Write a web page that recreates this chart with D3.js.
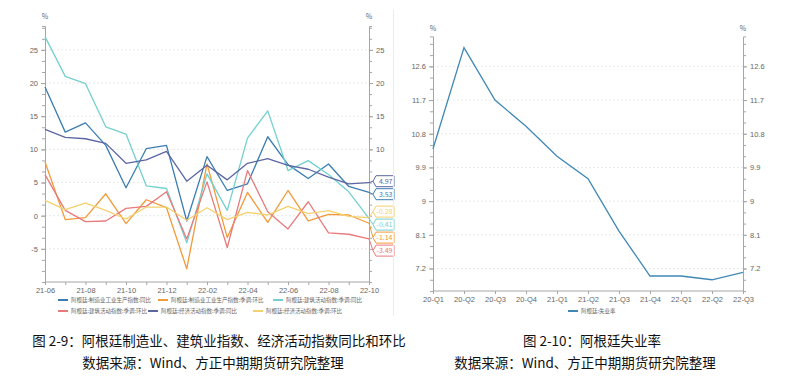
<!DOCTYPE html>
<html><head><meta charset="utf-8">
<script src="https://cdn.jsdelivr.net/npm/d3@7/dist/d3.min.js"></script>
<style>
body{margin:0;background:#fff;}
svg{display:block;font-family:"Noto Sans CJK SC","Noto Sans",sans-serif;}
</style></head><body>
<svg id="c" width="787" height="377"></svg>
<script>
const months = ["21-06","21-07","21-08","21-09","21-10","21-11","21-12","22-01","22-02","22-03","22-04","22-05","22-06","22-07","22-08","22-09","22-10"];
const monthTickLabels = ["21-06","21-08","21-10","21-12","22-02","22-04","22-06","22-08","22-10"];
const seriesNames = ["阿根廷:制造业工业生产指数:同比","阿根廷:制造业工业生产指数:季调:环比","阿根廷:建筑活动指数:季调:同比","阿根廷:建筑活动指数:季调:环比","阿根廷:经济活动指数:季调:同比","阿根廷:经济活动指数:季调:环比"];
const seriesColors = ["#3b7db3","#f39a38","#74d0cf","#e87a7c","#5c66a3","#f4d16e"];
const mfgYoY  = [19.4,12.6,14.0,10.6,4.2,10.1,10.6,-0.8,8.9,3.8,4.8,11.9,7.7,5.6,7.8,4.4,3.53];
const mfgMoM  = [8.1,-0.6,-0.3,3.3,-1.2,2.4,1.2,-8.0,7.8,-3.3,3.5,-1.0,3.8,-0.8,0.2,0.1,-1.14];
const conYoY  = [27.0,21.0,19.9,13.4,12.3,4.5,4.1,-4.1,6.3,0.8,11.7,15.8,6.8,8.3,6.2,3.6,-0.41];
const conMoM  = [6.2,0.8,-0.9,-0.8,1.1,1.4,3.6,-3.5,5.1,-4.8,6.8,0.6,-2.0,2.1,-2.6,-2.8,-3.49];
const ecoYoY  = [13.0,11.8,11.6,10.9,7.9,8.4,9.7,5.2,7.6,5.4,7.9,8.6,7.6,7.0,5.8,4.8,4.97];
const ecoMoM  = [2.3,0.9,1.9,0.8,-0.5,1.3,1.3,-0.7,1.2,-0.6,0.5,0.1,1.4,0.3,0.75,-0.1,-0.28];
const leftTicks = [25,20,15,10,5,0,-5];
const leftDomain = [-10,28.6];

const quarters = ["20-Q1","20-Q2","20-Q3","20-Q4","21-Q1","21-Q2","21-Q3","21-Q4","22-Q1","22-Q2","22-Q3"];
const unemployment = [10.4,13.1,11.7,11.0,10.2,9.6,8.2,7.0,7.0,6.9,7.1];
const rightTicks = [12.6,11.7,10.8,9.9,9,8.1,7.2];
const rightDomain = [6.6,13.4];
const rightSeriesName = "阿根廷:失业率";
const rightColor = "#3f88b5";

const titleLeft1 = "图 2-9：阿根廷制造业、建筑业指数、经济活动指数同比和环比";
const titleLeft2 = "数据来源：Wind、方正中期期货研究院整理";
const titleRight1 = "图 2-10：阿根廷失业率";
const titleRight2 = "数据来源：Wind、方正中期期货研究院整理";

const svg = d3.select("#c");
const axisColor = "#a6a6a6", textColor = "#666";

function drawFrame(x0,x1,y,dom,ticks,minorStep,xLabels,xScale,xTickVals,hideRight){
  const g = svg.append("g");
  ticks.forEach(t=>{
    g.append("line").attr("x1",x0).attr("x2",x1).attr("y1",y(t)).attr("y2",y(t))
      .attr("stroke","#e3e3e3").attr("stroke-dasharray","2,2").attr("stroke-width",0.8);
  });
  const minor = d3.range(dom[0], dom[1], minorStep);
  const axL = d3.axisLeft(y).tickValues(minor).tickSize(3).tickFormat("");
  const axR = d3.axisRight(y).tickValues(minor).tickSize(3).tickFormat("");
  [ [axL,x0], [axR,x1] ].forEach(([ax,xp])=>{
    const a = g.append("g").attr("transform",`translate(${xp},0)`).call(ax);
    a.select(".domain").attr("stroke",axisColor);
    a.selectAll(".tick line").attr("stroke",axisColor);
  });
  const lblL = d3.axisLeft(y).tickValues(ticks).tickSize(4).tickFormat(d=>d);
  const lblR = d3.axisRight(y).tickValues(ticks.filter(t=>!hideRight(y(t)))).tickSize(4).tickFormat(d=>d);
  [ [lblL,x0], [lblR,x1] ].forEach(([ax,xp])=>{
    const a = g.append("g").attr("transform",`translate(${xp},0)`).call(ax);
    a.select(".domain").remove();
    a.selectAll(".tick line").attr("stroke",axisColor);
    a.selectAll("text").attr("fill",textColor).attr("font-size",7.5);
  });
  const ax = d3.axisBottom(xScale).tickValues(xTickVals).tickSize(3).tickFormat(d=>xLabels.includes(d)?d:"");
  const a = g.append("g").attr("transform",`translate(0,${y(dom[0])})`).call(ax);
  a.select(".domain").attr("stroke",axisColor).attr("d",`M${x0},0H${x1}`);
  a.selectAll(".tick line").attr("stroke",axisColor);
  a.selectAll("text").attr("fill",textColor).attr("font-size",7.5).attr("dy","0.6em");
  return g;
}

// ---------- Left chart ----------
const lx0 = 45, lx1 = 369;
const xL = d3.scalePoint().domain(months).range([lx0,lx1]);
const yL = d3.scaleLinear().domain(leftDomain).range([282,26]);
const leftSeries = [mfgYoY,mfgMoM,conYoY,conMoM,ecoYoY,ecoMoM];

// end label positions (collision avoidance)
let labs = leftSeries.map((s,k)=>({k, v:s[s.length-1], y0:yL(s[s.length-1])}));
labs.sort((a,b)=>a.y0-b.y0);
const GAP = 13;
const sym = labs.map(l=>l.y0);
for(let it=0;it<300;it++){
  for(let i=1;i<sym.length;i++){
    const gap = sym[i]-sym[i-1];
    if(gap<GAP){const d=(GAP-gap)/2; sym[i]+=d; sym[i-1]-=d;}
  }
}
const down = labs.map(l=>l.y0);
for(let i=1;i<down.length;i++) down[i]=Math.max(down[i],down[i-1]+GAP);
labs.forEach((l,i)=>l.y=(sym[i]+down[i])/2);
const labTop = d3.min(labs,l=>l.y)-7, labBot = d3.max(labs,l=>l.y)+7;

drawFrame(lx0,lx1,yL,leftDomain,leftTicks,5/3,monthTickLabels,xL,months,(py)=>py>labTop-3&&py<labBot+3);
svg.append("text").attr("x",lx0).attr("y",19).attr("text-anchor","middle").attr("font-size",7).attr("fill",textColor).text("%");
svg.append("text").attr("x",lx1).attr("y",19).attr("text-anchor","middle").attr("font-size",7).attr("fill",textColor).text("%");

const line = d3.line().x((d,i)=>xL(months[i])).y(d=>yL(d));
leftSeries.forEach((s,k)=>{
  svg.append("path").datum(s).attr("d",line).attr("fill","none")
    .attr("stroke",seriesColors[k]).attr("stroke-width",1.3).attr("stroke-linejoin","round");
});

labs.forEach(l=>{
  const bx = lx1+4, w = 21, h = 11;
  const c = seriesColors[l.k];
  svg.append("path").attr("d",`M${lx1},${l.y0}L${bx},${l.y}`).attr("stroke",c).attr("fill","none").attr("stroke-width",1);
  svg.append("path").attr("d",`M${bx},${l.y}L${bx+3},${l.y-h/2}H${bx+w}V${l.y+h/2}H${bx+3}Z`)
    .attr("fill","#fff").attr("stroke",c).attr("stroke-width",1);
  svg.append("text").attr("x",bx+w-1.5).attr("y",l.y).attr("dy","0.35em").attr("text-anchor","end")
    .attr("font-size",7).attr("fill",c).text(l.v.toFixed(2));
});

// legend
const legPos = [[58,300],[158,300],[273,300],[58,311],[148,311],[253,311]];
seriesNames.forEach((n,k)=>{
  const [lx,ly]=legPos[k];
  svg.append("line").attr("x1",lx).attr("x2",lx+10).attr("y1",ly).attr("y2",ly).attr("stroke",seriesColors[k]).attr("stroke-width",2);
  svg.append("text").attr("x",lx+13).attr("y",ly).attr("dy","0.35em").attr("font-size",5.5).attr("fill",textColor).text(n);
});

// separator line
svg.append("line").attr("x1",393.5).attr("x2",393.5).attr("y1",10).attr("y2",316).attr("stroke","#ececec").attr("stroke-width",1);

// ---------- Right chart ----------
const rx0 = 433, rx1 = 743;
const xR = d3.scalePoint().domain(quarters).range([rx0,rx1]);
const yR = d3.scaleLinear().domain(rightDomain).range([291,36.4]);
drawFrame(rx0,rx1,yR,rightDomain,rightTicks,0.3,quarters,xR,quarters,()=>false);
svg.append("text").attr("x",rx0).attr("y",31).attr("text-anchor","middle").attr("font-size",7).attr("fill",textColor).text("%");
svg.append("text").attr("x",rx1).attr("y",31).attr("text-anchor","middle").attr("font-size",7).attr("fill",textColor).text("%");
svg.append("path").datum(unemployment)
  .attr("d",d3.line().x((d,i)=>xR(quarters[i])).y(d=>yR(d)))
  .attr("fill","none").attr("stroke",rightColor).attr("stroke-width",1.3);
svg.append("line").attr("x1",568).attr("x2",578).attr("y1",311).attr("y2",311).attr("stroke",rightColor).attr("stroke-width",2);
svg.append("text").attr("x",581).attr("y",311).attr("dy","0.35em").attr("font-size",5.5).attr("fill",textColor).text(rightSeriesName);

// ---------- Captions ----------
const cap = (x,y,t)=>svg.append("text").attr("x",x).attr("y",y).attr("text-anchor","middle")
  .attr("font-size",13.5).attr("fill","#111").text(t);
cap(219,346,titleLeft1);
cap(213,368,titleLeft2);
cap(592,346,titleRight1);
cap(585,368,titleRight2);
</script>
</body></html>
